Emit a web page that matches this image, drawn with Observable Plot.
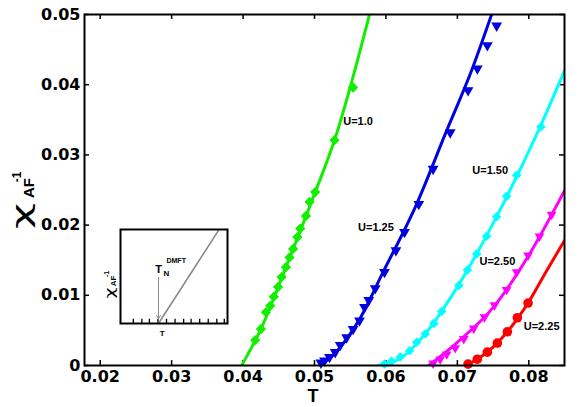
<!DOCTYPE html>
<html><head><meta charset="utf-8">
<script src="https://cdn.jsdelivr.net/npm/d3@7"></script>
<script src="https://cdn.jsdelivr.net/npm/@observablehq/plot@0.6"></script>
<style>
html,body{margin:0;padding:0;background:#fff;}
#wrap{position:relative;width:581px;height:407px;}
#inset{position:absolute;left:100px;top:215px;}
</style></head><body><div id="wrap"></div><div id="inset"></div>
<script>
// ---- tick values ----
const xTicks = [0.02, 0.03, 0.04, 0.05, 0.06, 0.07, 0.08];
const yTicks = [0, 0.01, 0.02, 0.03, 0.04, 0.05];

// ---- U=1.0 (green diamonds) ----
const u10T   = [0.0417,0.0425,0.0432,0.0438,0.0443,0.0449,0.0454,0.0460,0.0465,0.0470,0.0476,0.0480,0.0488,0.0493,0.0501,0.0528,0.0554];
const u10Chi = [0.0036,0.0052,0.0076,0.0085,0.0098,0.0112,0.0126,0.0140,0.0154,0.0166,0.0183,0.0195,0.0213,0.0233,0.0247,0.0321,0.0396];
const u10FitT   = [0.0398, 0.0425, 0.0460, 0.0501, 0.0528, 0.0577];
const u10FitChi = [0, 0.0052, 0.0140, 0.0247, 0.0321, 0.0500];

// ---- U=1.25 (blue triangles) ----
const u125T   = [0.0509,0.0514,0.0521,0.0529,0.0536,0.0545,0.0554,0.0563,0.0570,0.0576,0.0585,0.0598,0.0614,0.0626,0.0646,0.0666,0.0690,0.0715,0.0728,0.0742,0.0755];
const u125Chi = [0.0004,0.0007,0.0012,0.0019,0.0029,0.0040,0.0052,0.0064,0.0083,0.0093,0.0110,0.0133,0.0164,0.0190,0.0230,0.0280,0.0332,0.0392,0.0423,0.0456,0.0484];
const u125FitT   = [0.0508, 0.0530, 0.0562, 0.0596, 0.0643, 0.0684, 0.0721, 0.0748];
const u125FitChi = [0, 0.0019, 0.0064, 0.0133, 0.0230, 0.0332, 0.0423, 0.0500];

// ---- U=1.50 (cyan diamonds) ----
const u150T   = [0.0598,0.0608,0.0620,0.0633,0.0643,0.0655,0.0667,0.0678,0.0702,0.0714,0.0727,0.0741,0.0755,0.0769,0.0783,0.0817];
const u150Chi = [0.0002,0.0006,0.0012,0.0021,0.0033,0.0045,0.0060,0.0077,0.0114,0.0136,0.0159,0.0184,0.0212,0.0241,0.0271,0.0340];
const u150FitT   = [0.0589, 0.0620, 0.0655, 0.0700, 0.0755, 0.0815, 0.0850];
const u150FitChi = [0, 0.0010, 0.0045, 0.0112, 0.0212, 0.0338, 0.0420];

// ---- U=2.50 (magenta triangles) ----
const u250T   = [0.0666,0.0676,0.0685,0.0697,0.0709,0.0723,0.0738,0.0752,0.0769,0.0783,0.0799,0.0815,0.0832];
const u250Chi = [0.0003,0.0009,0.0016,0.0025,0.0038,0.0053,0.0069,0.0086,0.0108,0.0133,0.0157,0.0184,0.0215];
const u250FitT   = [0.0660, 0.0700, 0.0752, 0.0800, 0.0850];
const u250FitChi = [0, 0.0033, 0.0085, 0.0157, 0.0249];

// ---- U=2.25 (red circles) ----
const u225T   = [0.0715,0.0728,0.0742,0.0756,0.0770,0.0784,0.0799];
const u225Chi = [0.0002,0.0009,0.0019,0.0032,0.0048,0.0068,0.0089];
const u225FitT   = [0.0712, 0.0742, 0.0770, 0.0799, 0.0825, 0.0850];
const u225FitChi = [0, 0.0019, 0.0048, 0.0089, 0.0135, 0.0178];

// ---- curve labels ----
const labelText = ["U=1.0", "U=1.25", "U=1.50", "U=2.50", "U=2.25"];
const labelT    = [0.0561, 0.0586, 0.0746, 0.0756, 0.0818];
const labelChi  = [0.0348, 0.0196, 0.0278, 0.0148, 0.0056];

// ---- inset (schematic) ----
const insetLineX = [0.355, 0.916];
const insetLineY = [0, 0.99];
const insetTicks = [0.12,0.20,0.27,0.35,0.43,0.51,0.59,0.66,0.74,0.82,0.90,0.97];

const zipXY = (xs, ys) => xs.map((x, i) => ({x, y: ys[i]}));

const diamondSym = {draw(ctx, size) {
  const d = Math.sqrt(size) / Math.SQRT2;
  ctx.moveTo(0, -d); ctx.lineTo(d, 0); ctx.lineTo(0, d); ctx.lineTo(-d, 0); ctx.closePath();
}};
const triDownSym = {draw(ctx, size) {
  const s = Math.sqrt(size / (Math.sqrt(3) / 4)), h = s * Math.sqrt(3) / 2;
  ctx.moveTo(0, 2 * h / 3); ctx.lineTo(-s / 2, -h / 3); ctx.lineTo(s / 2, -h / 3); ctx.closePath();
}};

const series = [
  {pts: zipXY(u10T, u10Chi),  fit: zipXY(u10FitT, u10FitChi),  color: "#11ee00", sym: diamondSym, r: 4.1},
  {pts: zipXY(u125T, u125Chi), fit: zipXY(u125FitT, u125FitChi), color: "#0000e0", sym: triDownSym, r: 4.0},
  {pts: zipXY(u150T, u150Chi), fit: zipXY(u150FitT, u150FitChi), color: "#00ffff", sym: diamondSym, r: 3.8},
  {pts: zipXY(u250T, u250Chi), fit: zipXY(u250FitT, u250FitChi), color: "#ff00ff", sym: triDownSym, r: 3.6},
  {pts: zipXY(u225T, u225Chi), fit: zipXY(u225FitT, u225FitChi), color: "#ff0000", sym: "circle", r: 4.8}
];

const xDom = [0.0178, 0.085], yDom = [0, 0.05];
const tickLenX = 0.0007, tickLenY = 0.0007;

const marks = [
  Plot.axisX(xTicks, {tickSize: 0, tickPadding: 5, fontSize: 16, fontWeight: "bold", fontFamily: "DejaVu Sans", tickFormat: d => d.toFixed(2), label: null}),
  Plot.axisY(yTicks, {tickSize: 0, tickPadding: 4, fontSize: 16, fontWeight: "bold", fontFamily: "DejaVu Sans", tickFormat: d => d === 0 ? "0" : d.toFixed(2), label: null}),
  Plot.ruleX(xTicks, {x: d => d, y1: yDom[0], y2: yDom[0] + tickLenY, stroke: "black", strokeWidth: 1.5}),
  Plot.ruleX(xTicks, {x: d => d, y1: yDom[1], y2: yDom[1] - tickLenY, stroke: "black", strokeWidth: 1.5}),
  Plot.ruleY(yTicks, {y: d => d, x1: xDom[0], x2: xDom[0] + tickLenX, stroke: "black", strokeWidth: 1.5}),
  Plot.ruleY(yTicks, {y: d => d, x1: xDom[1], x2: xDom[1] - tickLenX, stroke: "black", strokeWidth: 1.5})
];
for (const s of series) {
  marks.push(Plot.line(s.fit, {x: "x", y: "y", stroke: s.color, strokeWidth: 3, curve: "monotone-x", clip: true}));
}
for (const s of series) {
  marks.push(Plot.dot(s.pts, {x: "x", y: "y", symbol: s.sym, r: s.r, fill: s.color, stroke: "none"}));
}
marks.push(Plot.text(labelText, {x: (d, i) => labelT[i], y: (d, i) => labelChi[i], text: d => d, fontSize: 11, fontWeight: "bold", fontFamily: "Liberation Sans", fill: "black"}));
marks.push(Plot.frame({stroke: "black", strokeWidth: 2}));

const main = Plot.plot({
  width: 581, height: 407,
  marginLeft: 84, marginRight: 17, marginTop: 14, marginBottom: 42,
  x: {domain: xDom}, y: {domain: yDom},
  style: {background: "white", overflow: "visible"},
  marks
});
document.getElementById("wrap").appendChild(main);

function rotText(svg, x, y, str, size, weight, family, len) {
  const t = d3.select(svg).append("text")
    .attr("transform", `translate(${x},${y}) rotate(-90)`)
    .attr("font-size", size).attr("font-weight", weight)
    .attr("font-family", family).attr("fill", "black")
    .text(str);
  if (len) t.attr("textLength", len).attr("lengthAdjust", "spacingAndGlyphs");
}
// main y label  χ_AF^-1
rotText(main, 30, 216, "χ", 24, "normal", "DejaVu Sans", 26);
rotText(main, 34, 188, "AF", 15, "bold", "Liberation Sans");
rotText(main, 21, 177, "-1", 12, "bold", "Liberation Sans");
// main x label
d3.select(main).append("text").attr("x", 313).attr("y", 402)
  .attr("text-anchor", "middle").attr("font-size", 18).attr("font-weight", "bold")
  .attr("font-family", "Liberation Sans").attr("fill", "black").text("T");

// ---- inset plot ----
const inset = Plot.plot({
  width: 135, height: 130,
  marginLeft: 20, marginRight: 8, marginTop: 14, marginBottom: 22,
  x: {domain: [0, 1], axis: null}, y: {domain: [0, 1], axis: null},
  style: {background: "transparent", overflow: "visible"},
  marks: [
    Plot.ruleX(insetTicks, {x: d => d, y1: 0, y2: 0.045, stroke: "black", strokeWidth: 1.3}),
    Plot.line(zipXY(insetLineX, insetLineY), {x: "x", y: "y", stroke: "#8a8a8a", strokeWidth: 1.6}),
    Plot.arrow([{x: 0.355, y1: 0.49, y2: 0.05}], {x: "x", y1: "y1", y2: "y2", stroke: "#8a8a8a", strokeWidth: 1, headLength: 6}),
    Plot.text(["T"], {x: 0.355, y: 0.575, text: d => d, fontSize: 11, fontWeight: "bold", fontFamily: "Liberation Sans", fill: "black"}),
    Plot.text(["N"], {x: 0.355, y: 0.575, text: d => d, dx: 8, dy: 4, fontSize: 8, fontWeight: "bold", fontFamily: "Liberation Sans", fill: "black"}),
    Plot.text(["DMFT"], {x: 0.355, y: 0.575, text: d => d, dx: 8, dy: -9, textAnchor: "start", fontSize: 7, fontWeight: "bold", fontFamily: "Liberation Sans", fill: "black"}),
    Plot.text(["T"], {x: 0.39, y: -0.11, text: d => d, fontSize: 8, fontWeight: "bold", fontFamily: "Liberation Sans", fill: "black"}),
    Plot.frame({stroke: "black", strokeWidth: 2})
  ]
});
document.getElementById("inset").appendChild(inset);
rotText(inset, 14, 78, "χ", 12, "normal", "DejaVu Sans", 11);
rotText(inset, 16, 66, "AF", 8, "bold", "Liberation Sans");
rotText(inset, 9, 59, "-1", 7, "bold", "Liberation Sans");
</script></body></html>
